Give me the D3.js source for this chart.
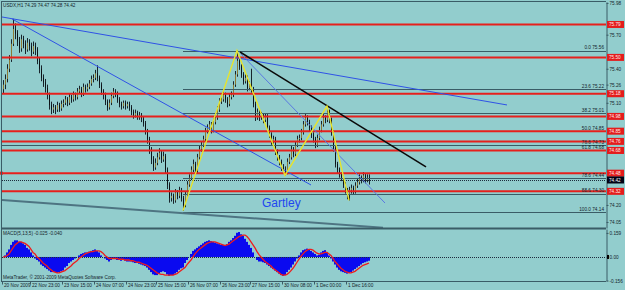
<!DOCTYPE html>
<html><head><meta charset="utf-8">
<script src="https://cdn.jsdelivr.net/npm/d3@7/dist/d3.min.js"></script>
<style>html,body{margin:0;padding:0;background:#92cdcd;}svg{display:block;}text{font-family:"Liberation Sans",Arial,sans-serif;}</style>
</head><body><svg id="c" width="625" height="290"></svg>
<script>
// ---------- DATA ----------
const titleText = "USDX,H1 74.29 74.47 74.28 74.42";
const opens = [75.22,75.26,75.31,75.40,75.48,75.62,75.75,75.71,75.64,75.58,
 75.66,75.62,75.57,75.63,75.60,75.55,75.60,75.57,75.47,75.40,
 75.32,75.28,75.23,75.17,75.08,75.04,75.06,75.04,75.08,75.05,
 75.09,75.10,75.13,75.10,75.15,75.13,75.17,75.15,75.20,75.22,
 75.18,75.24,75.22,75.24,75.27,75.31,75.32,75.36,75.32,75.26,
 75.20,75.17,75.11,75.06,75.10,75.16,75.20,75.18,75.13,75.09,
 75.07,75.10,75.07,75.09,75.06,75.02,74.99,75.01,74.98,74.99,
 74.96,74.92,74.85,74.78,74.69,74.60,74.53,74.57,74.62,74.66,
 74.60,74.63,74.51,74.38,74.26,74.28,74.24,74.31,74.28,74.33,
 74.26,74.20,74.29,74.38,74.44,74.51,74.56,74.50,74.62,74.69,
 74.73,74.78,74.85,74.88,74.91,74.86,74.93,74.97,75.04,75.11,
 75.13,75.17,75.13,75.09,75.15,75.17,75.26,75.35,75.47,75.42,
 75.35,75.29,75.32,75.23,75.26,75.22,75.09,74.97,75.02,74.97,
 74.99,74.95,74.98,74.88,74.82,74.76,74.78,74.67,74.62,74.58,
 74.53,74.51,74.49,74.58,74.62,74.69,74.65,74.73,74.78,74.79,
 74.84,74.91,74.97,74.93,74.88,74.82,74.78,74.73,74.79,74.86,
 74.91,74.97,74.95,75.02,74.95,74.84,74.70,74.56,74.51,74.47,
 74.44,74.38,74.33,74.29,74.33,74.35,74.32,74.37,74.40,74.44,
 74.42,74.46,74.42,74.44];
const closes = [75.26,75.31,75.40,75.48,75.62,75.75,75.71,75.64,75.58,75.66,
 75.62,75.57,75.63,75.60,75.55,75.60,75.57,75.47,75.40,75.32,
 75.28,75.23,75.17,75.08,75.04,75.06,75.04,75.08,75.05,75.09,
 75.10,75.13,75.10,75.15,75.13,75.17,75.15,75.20,75.22,75.18,
 75.24,75.22,75.24,75.27,75.31,75.32,75.36,75.32,75.26,75.20,
 75.17,75.11,75.06,75.10,75.16,75.20,75.18,75.13,75.09,75.07,
 75.10,75.07,75.09,75.06,75.02,74.99,75.01,74.98,74.99,74.96,
 74.92,74.85,74.78,74.69,74.60,74.53,74.57,74.62,74.66,74.60,
 74.63,74.51,74.38,74.26,74.28,74.24,74.31,74.28,74.33,74.26,
 74.20,74.29,74.38,74.44,74.51,74.56,74.50,74.62,74.69,74.73,
 74.78,74.85,74.88,74.91,74.86,74.93,74.97,75.04,75.11,75.13,
 75.17,75.13,75.09,75.15,75.17,75.26,75.35,75.47,75.42,75.35,
 75.29,75.32,75.23,75.26,75.22,75.09,74.97,75.02,74.97,74.99,
 74.95,74.98,74.88,74.82,74.76,74.78,74.67,74.62,74.58,74.53,
 74.51,74.49,74.58,74.62,74.69,74.65,74.73,74.78,74.79,74.84,
 74.91,74.97,74.93,74.88,74.82,74.78,74.73,74.79,74.86,74.91,
 74.97,74.95,75.02,74.95,74.84,74.70,74.56,74.51,74.47,74.44,
 74.38,74.33,74.29,74.33,74.35,74.32,74.37,74.40,74.44,74.42,
 74.46,74.42,74.44,74.42];
const highs = [75.30,75.35,75.44,75.52,75.66,75.84,75.80,75.74,75.68,75.70,
 75.69,75.65,75.67,75.66,75.63,75.64,75.63,75.59,75.50,75.43,
 75.35,75.31,75.26,75.19,75.11,75.09,75.08,75.11,75.10,75.12,
 75.13,75.16,75.15,75.18,75.17,75.20,75.19,75.23,75.25,75.24,
 75.27,75.26,75.27,75.30,75.34,75.35,75.39,75.43,75.34,75.28,
 75.22,75.19,75.13,75.13,75.19,75.23,75.22,75.20,75.15,75.11,
 75.12,75.12,75.11,75.11,75.08,75.04,75.04,75.03,75.02,75.01,
 74.98,74.94,74.87,74.80,74.71,74.63,74.61,74.66,74.70,74.68,
 74.67,74.65,74.53,74.40,74.31,74.30,74.34,74.33,74.36,74.35,
 74.28,74.32,74.41,74.47,74.54,74.60,74.58,74.65,74.72,74.76,
 74.81,74.88,74.91,74.94,74.93,74.96,75.00,75.07,75.14,75.16,
 75.20,75.19,75.15,75.18,75.20,75.29,75.38,75.56,75.50,75.44,
 75.37,75.35,75.34,75.29,75.40,75.24,75.11,75.05,75.04,75.02,
 75.01,75.01,75.00,74.90,74.84,74.81,74.80,74.69,74.64,74.60,
 74.56,74.54,74.61,74.65,74.72,74.71,74.76,74.81,74.82,74.87,
 74.94,75.00,74.99,74.95,74.90,74.84,74.80,74.82,74.89,74.94,
 75.00,74.99,75.07,75.04,74.97,74.86,74.72,74.58,74.53,74.49,
 74.46,74.40,74.35,74.36,74.38,74.37,74.40,74.43,74.47,74.46,
 74.49,74.48,74.47,74.47];
const lows = [75.18,75.22,75.28,75.37,75.46,75.60,75.66,75.60,75.54,75.55,
 75.58,75.53,75.55,75.56,75.51,75.53,75.52,75.44,75.36,75.29,
 75.24,75.19,75.13,75.04,75.00,75.01,75.00,75.02,75.02,75.03,
 75.06,75.08,75.07,75.08,75.10,75.11,75.12,75.13,75.18,75.15,
 75.16,75.19,75.20,75.22,75.25,75.28,75.30,75.29,75.23,75.17,
 75.13,75.08,75.03,75.04,75.08,75.14,75.15,75.10,75.06,75.04,
 75.05,75.04,75.05,75.03,74.99,74.96,74.97,74.95,74.95,74.93,
 74.89,74.82,74.74,74.65,74.56,74.50,74.51,74.55,74.60,74.57,
 74.58,74.48,74.34,74.22,74.23,74.21,74.22,74.25,74.26,74.23,
 74.15,74.18,74.27,74.36,74.42,74.49,74.47,74.48,74.60,74.67,
 74.71,74.76,74.83,74.86,74.83,74.84,74.91,74.95,75.02,75.09,
 75.11,75.10,75.06,75.07,75.13,75.15,75.24,75.33,75.39,75.32,
 75.26,75.27,75.20,75.21,75.19,75.06,74.94,74.95,74.94,74.95,
 74.92,74.93,74.85,74.79,74.73,74.74,74.64,74.59,74.55,74.50,
 74.48,74.46,74.47,74.56,74.60,74.62,74.63,74.71,74.75,74.77,
 74.82,74.89,74.90,74.85,74.79,74.75,74.70,74.71,74.77,74.84,
 74.89,74.92,74.93,74.92,74.81,74.67,74.53,74.48,74.44,74.41,
 74.35,74.30,74.25,74.24,74.30,74.29,74.30,74.35,74.38,74.39,
 74.40,74.39,74.40,74.38];
const macd = [0.00,0.01,0.03,0.05,0.08,0.10,0.11,0.11,0.10,0.10,
 0.09,0.08,0.06,0.05,0.03,0.01,-0.01,-0.02,-0.03,-0.05,
 -0.06,-0.07,-0.08,-0.09,-0.10,-0.10,-0.10,-0.105,-0.10,-0.095,
 -0.09,-0.07,-0.06,-0.04,-0.03,-0.02,-0.01,0.00,0.01,0.02,
 0.025,0.03,0.03,0.035,0.04,0.045,0.05,0.04,0.03,0.01,
 0.00,-0.01,-0.02,-0.03,-0.02,-0.01,-0.01,-0.02,-0.02,-0.025,
 -0.02,-0.025,-0.03,-0.03,-0.03,-0.035,-0.04,-0.04,-0.045,-0.05,
 -0.055,-0.06,-0.07,-0.085,-0.10,-0.115,-0.12,-0.12,-0.11,-0.10,
 -0.095,-0.10,-0.115,-0.125,-0.12,-0.12,-0.11,-0.10,-0.085,-0.075,
 -0.07,-0.04,-0.02,0.00,0.02,0.04,0.05,0.06,0.07,0.08,
 0.09,0.10,0.105,0.11,0.105,0.10,0.095,0.09,0.085,0.08,
 0.08,0.08,0.085,0.10,0.11,0.125,0.14,0.16,0.165,0.15,
 0.14,0.12,0.10,0.08,0.06,0.03,0.00,-0.02,-0.03,-0.03,
 -0.035,-0.04,-0.05,-0.06,-0.07,-0.08,-0.09,-0.10,-0.11,-0.12,
 -0.125,-0.12,-0.10,-0.085,-0.07,-0.05,-0.03,-0.01,0.01,0.03,
 0.045,0.05,0.055,0.05,0.04,0.03,0.02,0.01,0.015,0.03,
 0.04,0.045,0.03,0.01,-0.01,-0.03,-0.05,-0.07,-0.085,-0.095,
 -0.10,-0.105,-0.11,-0.105,-0.10,-0.09,-0.08,-0.07,-0.06,-0.05,
 -0.04,-0.035,-0.03,-0.025];
const signal = [0.00,0.00,0.01,0.02,0.04,0.06,0.08,0.09,0.10,0.10,
 0.095,0.09,0.08,0.07,0.05,0.03,0.02,0.00,-0.01,-0.025,
 -0.04,-0.05,-0.06,-0.075,-0.085,-0.095,-0.10,-0.105,-0.105,-0.10,
 -0.095,-0.09,-0.08,-0.07,-0.06,-0.045,-0.035,-0.025,-0.01,0.00,
 0.01,0.02,0.025,0.03,0.035,0.035,0.04,0.04,0.04,0.035,
 0.025,0.01,0.00,-0.01,-0.01,-0.01,-0.01,-0.01,-0.015,-0.015,
 -0.015,-0.02,-0.02,-0.02,-0.025,-0.025,-0.03,-0.035,-0.035,-0.04,
 -0.045,-0.05,-0.055,-0.065,-0.075,-0.085,-0.095,-0.105,-0.11,-0.115,
 -0.115,-0.12,-0.12,-0.12,-0.12,-0.12,-0.115,-0.11,-0.10,-0.09,
 -0.08,-0.07,-0.05,-0.035,-0.02,0.00,0.02,0.035,0.05,0.06,
 0.07,0.08,0.09,0.095,0.10,0.10,0.10,0.095,0.09,0.085,
 0.08,0.075,0.08,0.085,0.095,0.105,0.115,0.125,0.135,0.14,
 0.145,0.145,0.135,0.12,0.10,0.08,0.06,0.035,0.015,0.00,
 -0.015,-0.03,-0.04,-0.05,-0.06,-0.075,-0.085,-0.095,-0.105,-0.115,
 -0.12,-0.12,-0.115,-0.105,-0.09,-0.075,-0.055,-0.035,-0.015,0.005,
 0.02,0.035,0.045,0.05,0.05,0.045,0.035,0.025,0.02,0.02,
 0.025,0.03,0.03,0.02,0.01,-0.01,-0.03,-0.045,-0.06,-0.075,
 -0.085,-0.095,-0.10,-0.105,-0.105,-0.10,-0.095,-0.085,-0.075,-0.065,
 -0.055,-0.05,-0.045,-0.04];
const macdTitle = "MACD(5,13,5) -0.025 -0.040";
const copyright = "MetaTrader, © 2001-2009 MetaQuotes Software Corp.";
const timeIdx = [0,14,30,46,62,77,93,109,124,140,156,172];
const timeLabels = ["20 Nov 2009","22 Nov 23:00","23 Nov 15:00","24 Nov 07:00","24 Nov 23:00","25 Nov 15:00","26 Nov 07:00","26 Nov 23:00","27 Nov 15:00","30 Nov 08:00","1 Dec 00:00","1 Dec 16:00"];
const priceTicks = [75.98,75.84,75.70,75.55,75.40,75.26,75.10,74.96,74.82,74.67,74.52,74.37,74.20,74.05];
const macdTicks = [0.159,0,-0.156];
const macdTickLabels = ["0.159","0.00","-0.156"];
const redLevels = [75.79,75.50,75.18,74.98,74.85,74.76,74.68,74.48,74.32];
const fibNames = ["0.0","23.6","38.2","50.0","61.8","78.6","88.6","100.0"];
const fibPrices = [75.56,75.22,75.01,74.85,74.68,74.44,74.30,74.14];
const fibStartBar = 90;
const extraName = "76.6";
const extraPrice = 74.73;
const gartleyBars = [90,117,141,162,173];
const gartleyPrices = [74.15,75.56,74.46,75.07,74.24];
const blueLines = [[[-0.5,75.856],[252,75.081]], [[4.5,75.839],[154,74.376]]];
const blueLine2 = [[119,75.53],[191,74.217]];
const blackLine = [[118.5,75.548],[211.5,74.535]];
const grayLine = [[-0.5,74.244],[190,74.0]];

// ---------- DRAW ----------
const W=625,H=290;
const L=2,R=606,T=2,MB=228,MT=229,BB=281;
const svg=d3.select("#c");
const bg="#92cdcd", frame="#3a5c66", txt="#14242c", fs=4.7;
svg.append("rect").attr("width",W).attr("height",H).attr("fill",bg);
const defs=svg.append("defs");
defs.append("clipPath").attr("id","cm").append("rect").attr("x",L).attr("y",T).attr("width",R-L).attr("height",MB-T);
defs.append("clipPath").attr("id","cd").append("rect").attr("x",L).attr("y",MT).attr("width",R-L).attr("height",BB-MT);

const x=d3.scaleLinear().domain([0,183]).range([3,369]);
const y=d3.scaleLinear().domain([73.997,75.988]).range([MB,T]);
const ym=d3.scaleLinear().domain([-0.159,0.185]).range([BB,MT]);
const bars=d3.range(closes.length);
const last=closes[closes.length-1];

const gM=svg.append("g").attr("clip-path","url(#cm)");
// candles
gM.selectAll("line.w").data(bars).join("line").attr("class","w")
  .attr("x1",i=>Math.round(x(i))+0.5).attr("x2",i=>Math.round(x(i))+0.5)
  .attr("y1",i=>y(highs[i])).attr("y2",i=>y(lows[i]))
  .attr("stroke","#18242c").attr("stroke-width",1);
gM.selectAll("rect.b").data(bars).join("rect").attr("class","b")
  .attr("x",i=>Math.round(x(i))).attr("width",1)
  .attr("y",i=>y(Math.max(opens[i],closes[i])))
  .attr("height",i=>Math.max(1,Math.abs(y(opens[i])-y(closes[i]))))
  .attr("fill",i=>closes[i]>=opens[i]?"#8c7a34":"#0c1216");

// extra full-width gray level
gM.append("line").attr("x1",L).attr("x2",R).attr("y1",Math.round(y(extraPrice))+0.5).attr("y2",Math.round(y(extraPrice))+0.5).attr("stroke",frame).attr("stroke-width",1);
// fib lines
const fib=gM.append("g");
fibPrices.forEach((p,k)=>{
  const yy=Math.round(y(p))+0.5;
  fib.append("line").attr("x1",x(fibStartBar)).attr("x2",R).attr("y1",yy).attr("y2",yy).attr("stroke",frame).attr("stroke-width",1);
});
// red levels
gM.selectAll("line.red").data(redLevels).join("line").attr("class","red")
  .attr("x1",L).attr("x2",R).attr("y1",d=>y(d)).attr("y2",d=>y(d))
  .attr("stroke","#e6201c").attr("stroke-width",2);
// bid line
gM.append("line").attr("x1",L).attr("x2",R).attr("y1",Math.round(y(last))+0.5).attr("y2",Math.round(y(last))+0.5)
  .attr("stroke","#1c2c3c").attr("stroke-width",1).attr("stroke-dasharray","1,1");
// trend lines
const seg=(pts,col,w)=>gM.append("line").attr("x1",x(pts[0][0])).attr("y1",y(pts[0][1])).attr("x2",x(pts[1][0])).attr("y2",y(pts[1][1])).attr("stroke",col).attr("stroke-width",w);
seg(grayLine,"#4e7482",2);
blueLines.forEach(l=>seg(l,"#2f52e6",1));
seg(blueLine2,"#5a78e0",1);
seg(blackLine,"#0a0a0a",1.6);
// gartley
gM.append("path").datum(bars.slice(0,gartleyBars.length))
  .attr("d",d3.line().x(k=>x(gartleyBars[k])).y(k=>y(gartleyPrices[k])))
  .attr("fill","none").attr("stroke","#e8e42a").attr("stroke-width",1.4);
svg.append("text").attr("x",262).attr("y",207).attr("font-size",12).attr("fill","#2046f0").text("Gartley");
// fib labels
fibPrices.forEach((p,k)=>{
  svg.append("text").attr("x",R-2).attr("y",y(p)-1.2).attr("text-anchor","end").attr("font-size",fs).attr("fill",txt).text(fibNames[k]+" "+p.toFixed(2));
});
svg.append("text").attr("x",R-2).attr("y",y(extraPrice)-1.2).attr("text-anchor","end").attr("font-size",fs).attr("fill",txt).text(extraName+" "+extraPrice.toFixed(2));
// small left marker
svg.append("rect").attr("x",0).attr("y",y(redLevels[7])-1.5).attr("width",3).attr("height",3).attr("fill","#e6201c");
// title
svg.append("text").attr("x",3).attr("y",7).attr("font-size",fs).attr("fill",txt).text(titleText);

// MACD
const gD=svg.append("g").attr("clip-path","url(#cd)");
gD.selectAll("rect.h").data(bars).join("rect").attr("class","h")
  .attr("x",i=>x(i)-1).attr("width",2)
  .attr("y",i=>ym(Math.max(0,macd[i]))).attr("height",i=>Math.abs(ym(macd[i])-ym(0)))
  .attr("fill","#0a0af0");
gD.append("line").attr("x1",L).attr("x2",R).attr("y1",Math.round(ym(0))+0.5).attr("y2",Math.round(ym(0))+0.5)
  .attr("stroke","#1c2c3c").attr("stroke-dasharray","1,1");
gD.append("path").datum(bars).attr("d",d3.line().x(i=>x(i)).y(i=>ym(signal[i])))
  .attr("fill","none").attr("stroke","#ee1c1c").attr("stroke-width",1.3);
svg.append("text").attr("x",3).attr("y",235).attr("font-size",fs).attr("fill",txt).text(macdTitle);
svg.append("text").attr("x",3).attr("y",278.5).attr("font-size",fs).attr("fill",txt).text(copyright);

// frame
const fr=svg.append("g").attr("stroke",frame).attr("fill","none");
fr.append("line").attr("x1",1).attr("x2",R).attr("y1",1.5).attr("y2",1.5);
fr.append("line").attr("x1",1.5).attr("x2",1.5).attr("y1",1).attr("y2",BB);
fr.append("line").attr("x1",1).attr("x2",R).attr("y1",MB+0.5).attr("y2",MB+0.5).attr("stroke-width",2);
fr.append("line").attr("x1",1).attr("x2",R).attr("y1",BB+0.5).attr("y2",BB+0.5);

// axes (price labels hidden behind the level boxes are not drawn)
const boxed=redLevels.concat([last]);
const visibleTicks=priceTicks.filter(t=>boxed.every(p=>Math.abs(y(t)-y(p))>=6));
const styleAxis=g=>{g.selectAll("text").attr("font-size",fs).attr("fill",txt).attr("font-family","Liberation Sans, Arial, sans-serif");g.selectAll("line,path").attr("stroke",frame);};
svg.append("g").attr("transform",`translate(${R+0.5},0)`)
  .call(d3.axisRight(y).tickValues(visibleTicks).tickFormat(d3.format(".2f")).tickSize(2).tickSizeOuter(0).tickPadding(1))
  .call(styleAxis);
svg.append("g").attr("transform",`translate(${R+0.5},0)`)
  .call(d3.axisRight(ym).tickValues(macdTicks).tickFormat((d,i)=>macdTickLabels[i]).tickSize(2).tickSizeOuter(0).tickPadding(1))
  .call(styleAxis);
svg.append("g").attr("transform",`translate(-1,${BB+0.5})`)
  .call(d3.axisBottom(x).tickValues(timeIdx).tickFormat((d,i)=>timeLabels[i]).tickSize(3).tickSizeOuter(0).tickPadding(-1))
  .call(styleAxis)
  .call(g=>g.select(".domain").remove())
  .call(g=>g.selectAll("text").attr("text-anchor","start").attr("dx",1.5).attr("y",2).attr("dy","0.71em"));

// red price boxes
redLevels.forEach(p=>{
  svg.append("rect").attr("x",R+1).attr("y",y(p)-3.5).attr("width",17).attr("height",7).attr("fill","#e41c1c");
  svg.append("text").attr("x",R+3).attr("y",y(p)).attr("dy","0.35em").attr("font-size",fs).attr("fill","#ffe8e8").text(p.toFixed(2));
});
svg.append("rect").attr("x",R+1).attr("y",y(last)-3.5).attr("width",17).attr("height",7).attr("fill","#020214");
svg.append("text").attr("x",R+3).attr("y",y(last)).attr("dy","0.35em").attr("font-size",fs).attr("fill","#ffffff").text(last.toFixed(2));
svg.append("rect").attr("x",R+1).attr("y",ym(0)-2).attr("width",2).attr("height",4).attr("fill","#000");
</script></body></html>
